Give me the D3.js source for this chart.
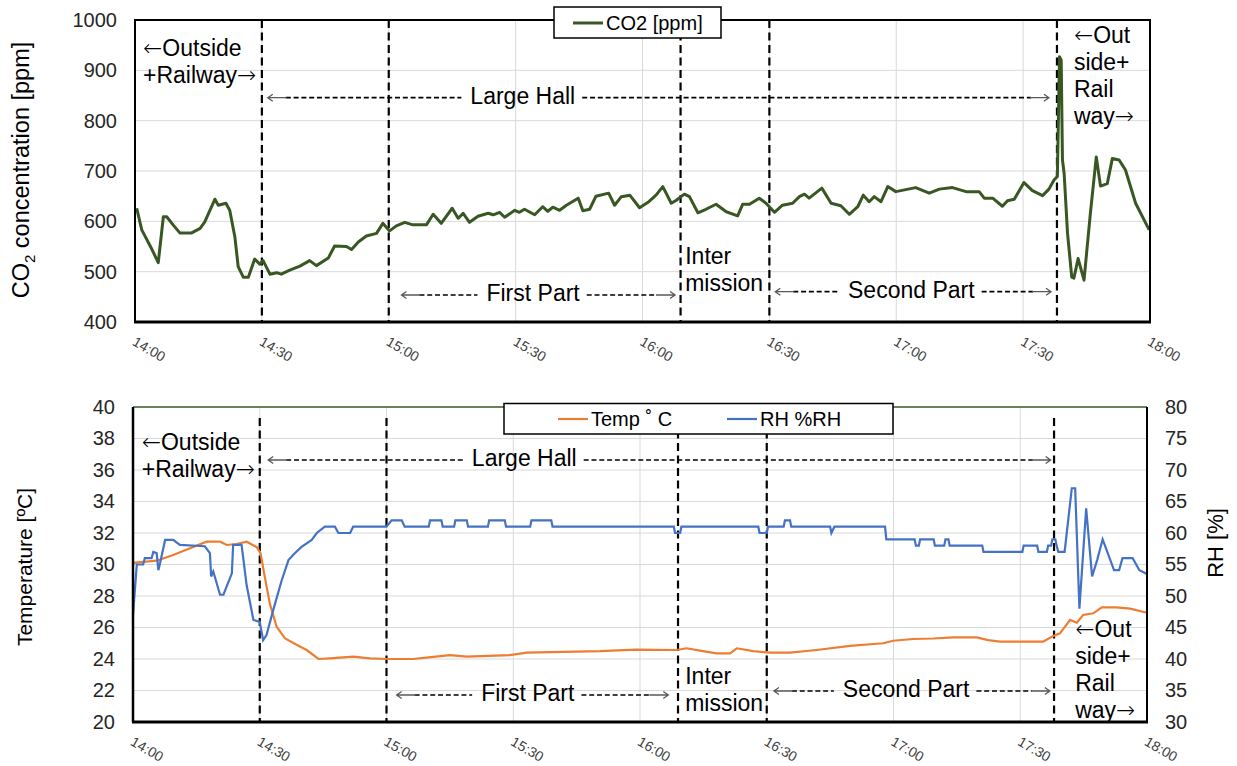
<!DOCTYPE html>
<html>
<head>
<meta charset="utf-8">
<script src="https://cdn.jsdelivr.net/npm/d3@7"></script>
<style>
	body { margin: 0; background: #fff; }
	svg text { font-family: "Liberation Sans", Arial, sans-serif; }
	svg tspan.arr { font-family: "DejaVu Sans", sans-serif; font-weight: 200; }
</style>
</head>
<body>
<svg id="chart" width="1237" height="766"></svg>
<script>
// all times are minutes after 14:00
var co2Min = [0.4,1.6,2.4,3.9,5.5,6.7,7.5,9,10.6,13.4,15.4,16.5,18.9,19.7,21.5,22.4,23.6,24.4,25.6,26.8,28.3,29.5,30.3,31.9,33.5,34.6,36.6,39,41.3,42.9,45.7,47.2,50,51.2,52.8,54.7,57.1,58.6,60.2,61.8,63.8,65.7,68.9,70.5,72.4,75,76.4,77.6,79.1,81.1,83.5,84.7,86.2,87.4,89.8,90.9,92.1,94.5,96.4,97.6,98.8,100.4,102,104.8,105.9,107.5,109,112,113.4,115,117,119.3,121.5,123.2,124.8,126.8,128,129.9,131.1,133.1,135,137.4,139.8,142.5,143.7,145.3,147.6,149.2,151.2,153.1,155.5,157.1,158.3,159.4,162.4,164.6,166.9,168.9,170.9,172.2,173.6,174.8,176.4,178,179.9,184.6,187.8,190.2,193.3,196.5,199.6,200.8,202.8,205.1,206.3,207.9,210.2,212.2,214.6,216.1,217.3,218.1,218.6,219,219.3,219.7,220.5,221.5,222,223,224.4,225.9,227.3,228.3,229.9,231.1,232.7,234.2,236.6,239.8];
var co2Ppm = [626,583,570,546,518,609,609,593,577,577,586,599,644,632,636,622,570,510,489,489,525,515,522,495,498,495,503,511,522,512,527,551,550,544,559,571,576,596,581,591,598,593,593,614,596,626,606,616,598,610,616,613,618,608,622,618,624,613,629,620,628,622,632,646,621,624,650,656,632,649,652,627,639,652,669,636,642,654,649,617,624,634,619,611,634,634,646,636,618,632,636,649,654,646,666,636,631,614,629,652,639,649,639,669,659,667,656,664,667,659,659,646,646,630,641,644,677,661,651,664,682,689,927,920,722,695,576,489,487,526,483,616,728,670,675,725,722,702,636,583];

var tempMin = [0,5.6,9.5,13.5,17.4,20.6,22.2,24.5,26.9,29.3,30.2,31.2,32.4,34,36,38.7,41.1,43.9,46.6,52.1,56.1,60,66.3,70,75,79,89.2,93.2,110.5,119,128.7,131,134.2,138.1,141.3,142.9,146.8,150.8,155.5,161.8,169.7,177.6,179.9,184.7,189.4,194.2,199.7,202.4,205.2,215.4,217.8,219.4,221.8,223.4,224.9,227.3,229.3,232.8,236,240];
var tempC = [30.1,30.24,30.6,31.03,31.45,31.45,31.24,31.3,31.45,31.1,30.7,29.2,27.5,26.05,25.3,24.9,24.57,24.0,24.04,24.15,24.04,24.0,24.0,24.1,24.25,24.15,24.25,24.4,24.5,24.6,24.57,24.68,24.53,24.36,24.36,24.68,24.5,24.4,24.4,24.57,24.83,25.0,25.16,25.27,25.3,25.37,25.37,25.2,25.1,25.1,25.46,25.63,26.48,26.3,26.8,26.9,27.28,27.28,27.2,26.94];

var rhMin = [0,0.9,2.4,2.8,4.4,4.8,5.6,6,6.4,7.6,9.5,11.1,17,18.2,18.5,19,20.6,21.4,23.4,23.7,25.7,26.9,28.5,30,30.8,31.6,33.2,35.2,36.8,38.3,39.9,42.3,43.5,45.4,47.8,48.6,51.4,52.1,60,61.2,63.6,64.3,70,70.3,73,73.3,76,76.3,79,79.3,84,84.3,88,88.3,94,94.3,99,99.3,128,128.3,129.5,129.8,148,148.3,150,150.3,154,154.3,155.5,155.8,165,165.3,166,178,178.3,185,185.3,186,186.3,189.5,189.8,192,192.3,193,193.3,201,201.3,210.5,210.8,214,214.3,216.3,216.6,217.3,217.6,218.3,218.6,219,220.5,222.2,223,224,225.6,227,228.2,229.5,230.6,232.2,233.4,234.2,236.6,238.2,240];
var rhPct = [47,55,55,56,56,57,56.8,54.1,55.2,58.9,58.9,58.1,57.9,56.8,53.1,53.9,50.2,50.2,53.6,58.1,58.1,51.7,46.2,45.9,43,43.8,47.8,52.5,55.7,56.8,57.8,58.9,60,61,61,60,60,61,61,62,62,61,61,62,62,61,61,62,62,61,61,62,62,61,61,62,62,61,61,60,60,61,61,60,60,61,61,62,62,61,61,60,61,61,59,59,58,58,59,59,58,58,59,59,58,58,57,57,58,58,57,57,58,58,59,59,58,57,57,67.1,67.1,48,63.9,53.1,55.7,59,57,54.1,54.1,56,56,54.1,53.5];

var co2Ticks = [400,500,600,700,800,900,1000];
var tempTicks = [20,22,24,26,28,30,32,34,36,38,40];
var rhTicks = [30,35,40,45,50,55,60,65,70,75,80];
var phaseMin = [30,60,129,150,218];

var co2Color = "#385723", tempColor = "#ED7D31", rhColor = "#4472C4";
var gridColor = "#d9d9d9";

var svg = d3.select("#chart");
var t0 = new Date(2021, 0, 1, 14, 0, 0);
function mt(m) { return new Date(t0.getTime() + m*60000); }

function xAxisLabels(g, x, y) {
	g.append("g")
		.attr("transform", "translate(0," + y + ")")
		.call(d3.axisBottom(x).ticks(d3.timeMinute.every(30)).tickFormat(d3.timeFormat("%H:%M")).tickSize(0))
		.attr("font-family", null).attr("font-size", 14)
		.call(function(a) { a.select(".domain").remove(); })
		.selectAll("text")
		.attr("x", 0).attr("y", 0).attr("dy", "0.71em")
		.attr("transform", "translate(1,14) rotate(30)")
		.style("text-anchor", "start")
		.attr("fill", "#404040");
}

function yAxis(g, axis, xPos) {
	g.append("g")
		.attr("transform", "translate(" + xPos + ",0)")
		.call(axis.tickSize(0).tickPadding(18).tickFormat(d3.format("d")))
		.attr("font-family", null).attr("font-size", 20)
		.call(function(a) { a.select(".domain").remove(); })
		.selectAll("text").attr("fill", "#262626");
}

function grid(g, x, y, yTicks, p) {
	g.selectAll("line.h").data(yTicks.slice(1, -1)).enter().append("line")
		.attr("x1", p.left).attr("x2", p.right)
		.attr("y1", function(d) { return y(d); }).attr("y2", function(d) { return y(d); })
		.attr("stroke", gridColor).attr("stroke-width", 1);
	g.selectAll("line.v").data(x.ticks(d3.timeMinute.every(30)).slice(1, -1)).enter().append("line")
		.attr("x1", function(d) { return x(d); }).attr("x2", function(d) { return x(d); })
		.attr("y1", p.top).attr("y2", p.bottom)
		.attr("stroke", gridColor).attr("stroke-width", 1);
}

function phaseLines(g, x, y1, y2) {
	g.selectAll("line.ph").data(phaseMin).enter().append("line")
		.attr("x1", function(d) { return x(mt(d)); }).attr("x2", function(d) { return x(mt(d)); })
		.attr("y1", y1).attr("y2", y2)
		.attr("stroke", "#000").attr("stroke-width", 2.2)
		.attr("stroke-dasharray", "8,4.5");
}

// lines may start or end with an arrow, drawn in a font with a long arrow glyph
function multiText(g, x, ys, lines) {
	lines.forEach(function(s, i) {
		var t = g.append("text").attr("x", x).attr("y", ys[i]).attr("font-size", 23).attr("fill", "#000");
		if (s.charAt(0) == "\u2190") {
			t.append("tspan").attr("class", "arr").text("\u2190");
			t.append("tspan").text(s.slice(1));
		} else if (s.charAt(s.length - 1) == "\u2192") {
			t.append("tspan").text(s.slice(0, -1));
			t.append("tspan").attr("class", "arr").text("\u2192");
		} else {
			t.text(s);
		}
	});
}

function hArrow(g, xa, xb, y, label, lx) {
	var t = g.append("text").attr("x", lx).attr("y", y + 6).attr("font-size", 23).attr("fill", "#000").text(label);
	var w = t.node().getComputedTextLength();
	g.append("line").attr("x1", xa + 18).attr("x2", lx - 9).attr("y1", y).attr("y2", y)
		.attr("stroke", "#000").attr("stroke-width", 1.7).attr("stroke-dasharray", "5,2.8");
	g.append("line").attr("x1", lx + w + 7).attr("x2", xb - 18).attr("y1", y).attr("y2", y)
		.attr("stroke", "#000").attr("stroke-width", 1.7).attr("stroke-dasharray", "5,2.8");
	g.append("path")
		.attr("d", "M" + (xa + 19) + "," + y + "H" + xa + "M" + (xa + 5) + "," + (y - 3.5) + "L" + xa + "," + y + "L" + (xa + 5) + "," + (y + 3.5)
			+ "M" + (xb - 19) + "," + y + "H" + xb + "M" + (xb - 5) + "," + (y - 3.5) + "L" + xb + "," + y + "L" + (xb - 5) + "," + (y + 3.5))
		.attr("stroke", "#595959").attr("stroke-width", 1.3).attr("fill", "none");
}

// ---------- top panel: CO2 ----------
var p1 = {left: 135, right: 1150, top: 20, bottom: 322};
var x1 = d3.scaleTime().domain([mt(0), mt(240)]).range([p1.left, p1.right]);
var y1 = d3.scaleLinear().domain([400, 1000]).range([p1.bottom, p1.top]);
var g1 = svg.append("g");

grid(g1, x1, y1, co2Ticks, p1);
phaseLines(g1, x1, p1.top, p1.bottom);

g1.append("path")
	.datum(d3.zip(co2Min, co2Ppm))
	.attr("fill", "none").attr("stroke", co2Color).attr("stroke-width", 3)
	.attr("stroke-linejoin", "round")
	.attr("d", d3.line().x(function(d) { return x1(mt(d[0])); }).y(function(d) { return y1(d[1]); }));

g1.append("rect").attr("x", p1.left).attr("y", p1.top)
	.attr("width", p1.right - p1.left).attr("height", p1.bottom - p1.top)
	.attr("fill", "none").attr("stroke", "#000").attr("stroke-width", 2);
g1.append("line").attr("x1", p1.left - 1).attr("x2", p1.right + 1).attr("y1", p1.bottom).attr("y2", p1.bottom)
	.attr("stroke", "#000").attr("stroke-width", 3);

yAxis(g1, d3.axisLeft(y1).tickValues(co2Ticks), p1.left);
xAxisLabels(g1, x1, p1.bottom);

var t1 = g1.append("text").attr("transform", "translate(29,170) rotate(-90)")
	.attr("text-anchor", "middle").attr("font-size", 23.5).attr("fill", "#000");
t1.append("tspan").text("CO");
t1.append("tspan").attr("font-size", 15).attr("dy", 6).text("2");
t1.append("tspan").attr("dy", -6).text(" concentration [ppm]");

// legend
g1.append("rect").attr("x", 554).attr("y", 7).attr("width", 167).attr("height", 31)
	.attr("fill", "#fff").attr("stroke", "#000").attr("stroke-width", 1.5);
g1.append("line").attr("x1", 573).attr("x2", 603).attr("y1", 23).attr("y2", 23)
	.attr("stroke", co2Color).attr("stroke-width", 3);
g1.append("text").attr("x", 606).attr("y", 30).attr("font-size", 20).attr("fill", "#000").text("CO2 [ppm]");

// annotations
multiText(g1, x1(mt(1.9)), [56, 83], ["\u2190Outside", "+Railway\u2192"]);
hArrow(g1, x1(mt(31.4)), x1(mt(216.1)), 97.7, "Large Hall", x1(mt(79.3)));
hArrow(g1, x1(mt(63.0)), x1(mt(127.7)), 295, "First Part", x1(mt(83.1)));
multiText(g1, x1(mt(130.1)), [264, 291], ["Inter", "mission"]);
hArrow(g1, x1(mt(151.4)), x1(mt(216.6)), 291.7, "Second Part", x1(mt(168.6)));
multiText(g1, x1(mt(222.0)), [43, 70, 97, 124], ["\u2190Out", "side+", "Rail", "way\u2192"]);

// ---------- bottom panel: temperature and RH ----------
var p2 = {left: 133, right: 1147, top: 407, bottom: 722};
var x2 = d3.scaleTime().domain([mt(0), mt(240)]).range([p2.left, p2.right]);
var y2 = d3.scaleLinear().domain([20, 40]).range([p2.bottom, p2.top]);
var y2r = d3.scaleLinear().domain([30, 80]).range([p2.bottom, p2.top]);
var g2 = svg.append("g");

grid(g2, x2, y2, tempTicks, p2);
phaseLines(g2, x2, 418, p2.bottom);

g2.append("path")
	.datum(d3.zip(tempMin, tempC))
	.attr("fill", "none").attr("stroke", tempColor).attr("stroke-width", 2.2)
	.attr("d", d3.line().x(function(d) { return x2(mt(d[0])); }).y(function(d) { return y2(d[1]); }));
g2.append("path")
	.datum(d3.zip(rhMin, rhPct))
	.attr("fill", "none").attr("stroke", rhColor).attr("stroke-width", 2.2)
	.attr("d", d3.line().x(function(d) { return x2(mt(d[0])); }).y(function(d) { return y2r(d[1]); }));

g2.append("line").attr("x1", p2.left).attr("x2", p2.right).attr("y1", p2.top).attr("y2", p2.top)
	.attr("stroke", co2Color).attr("stroke-width", 1.5);
g2.append("line").attr("x1", p2.left).attr("x2", p2.left).attr("y1", p2.top).attr("y2", p2.bottom)
	.attr("stroke", "#000").attr("stroke-width", 2.5);
g2.append("line").attr("x1", p2.right).attr("x2", p2.right).attr("y1", p2.top).attr("y2", p2.bottom)
	.attr("stroke", "#000").attr("stroke-width", 2);
g2.append("line").attr("x1", p2.left - 1).attr("x2", p2.right + 1).attr("y1", p2.bottom).attr("y2", p2.bottom)
	.attr("stroke", "#000").attr("stroke-width", 3);

yAxis(g2, d3.axisLeft(y2).tickValues(tempTicks), p2.left);
yAxis(g2, d3.axisRight(y2r).tickValues(rhTicks), p2.right);
xAxisLabels(g2, x2, p2.bottom);

g2.append("text").attr("transform", "translate(32,567) rotate(-90)")
	.attr("text-anchor", "middle").attr("font-size", 21).attr("fill", "#000").text("Temperature [ºC]");
g2.append("text").attr("transform", "translate(1223,543) rotate(-90)")
	.attr("text-anchor", "middle").attr("font-size", 22).attr("fill", "#000").text("RH [%]");

// legend
g2.append("rect").attr("x", 504).attr("y", 403.5).attr("width", 389).attr("height", 30.5)
	.attr("fill", "#fff").attr("stroke", "#000").attr("stroke-width", 1.5);
g2.append("line").attr("x1", 558).attr("x2", 588).attr("y1", 419).attr("y2", 419)
	.attr("stroke", tempColor).attr("stroke-width", 2.2);
g2.append("text").attr("x", 591).attr("y", 426).attr("font-size", 20).attr("fill", "#000").text("Temp \u02DA C");
g2.append("line").attr("x1", 727).attr("x2", 757).attr("y1", 419).attr("y2", 419)
	.attr("stroke", rhColor).attr("stroke-width", 2.2);
g2.append("text").attr("x", 760).attr("y", 426).attr("font-size", 20).attr("fill", "#000").text("RH %RH");

// annotations
multiText(g2, x2(mt(2.06)), [450, 477], ["\u2190Outside", "+Railway\u2192"]);
hArrow(g2, x2(mt(32.0)), x2(mt(217.2)), 460, "Large Hall", x2(mt(80.2)));
hArrow(g2, x2(mt(62.4)), x2(mt(126.7)), 695, "First Part", x2(mt(82.4)));
multiText(g2, x2(mt(130.7)), [684, 711], ["Inter", "mission"]);
hArrow(g2, x2(mt(151.7)), x2(mt(217.0)), 691, "Second Part", x2(mt(168.0)));
multiText(g2, x2(mt(223.0)), [637, 664, 691, 718], ["\u2190Out", "side+", "Rail", "way\u2192"]);
</script>
</body>
</html>
